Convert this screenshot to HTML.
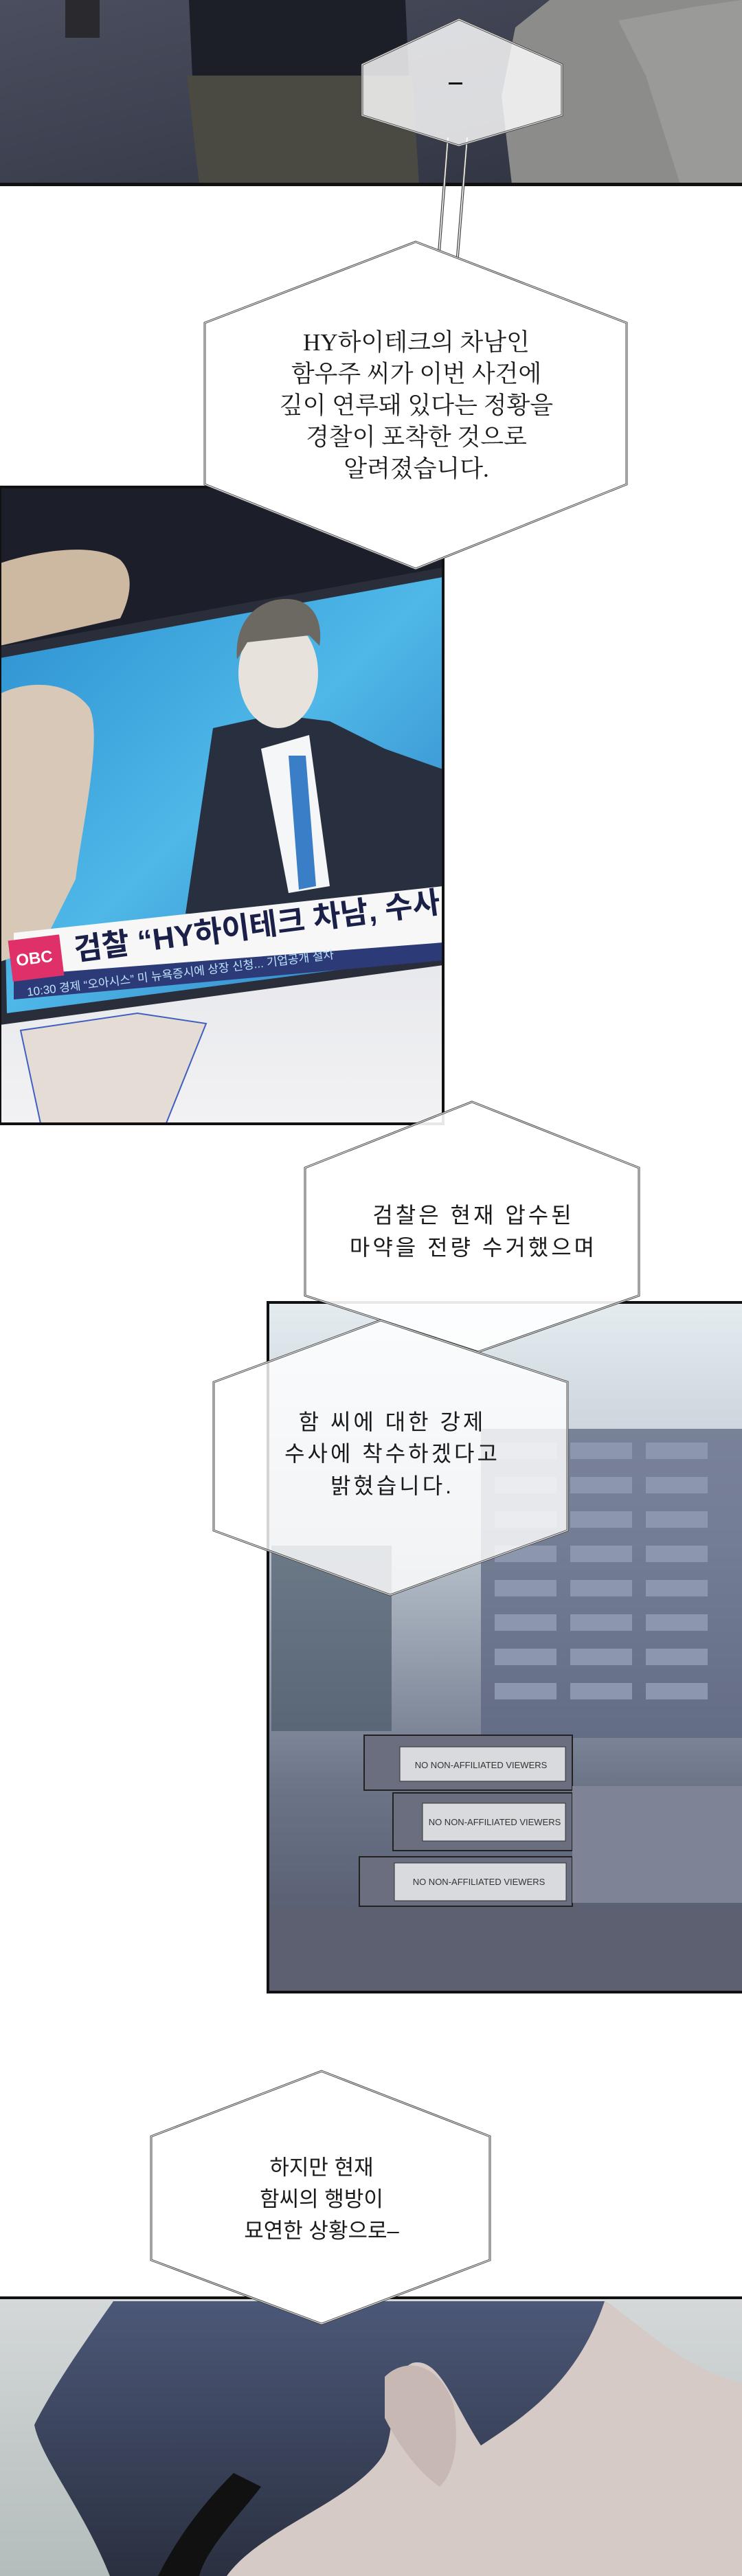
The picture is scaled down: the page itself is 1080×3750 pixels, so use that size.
<!DOCTYPE html>
<html><head><meta charset="utf-8"><style>
html,body{margin:0;padding:0;background:#fff;}
svg{display:block;}
.t{font-family:"Liberation Serif","Noto Serif CJK SC",serif;fill:#1a1a1a;text-anchor:middle;}
.s{font-family:"Liberation Sans","Noto Sans CJK KR",sans-serif;fill:#1a1a1a;text-anchor:middle;}
</style></head><body>
<svg width="1080" height="3750" viewBox="0 0 1080 3750" xmlns="http://www.w3.org/2000/svg">
<defs>
<linearGradient id="bgTop" x1="0" y1="0" x2="1" y2="1"><stop offset="0" stop-color="#4a4e5e"/><stop offset="1" stop-color="#2e3240"/></linearGradient>
<linearGradient id="screen" x1="0" y1="0" x2="1" y2="1"><stop offset="0" stop-color="#2b8fd0"/><stop offset="0.5" stop-color="#4fb8e8"/><stop offset="1" stop-color="#2a78c0"/></linearGradient>
<linearGradient id="under" x1="0" y1="0" x2="0" y2="1"><stop offset="0" stop-color="#c8ccd4"/><stop offset="1" stop-color="#f2f2f4"/></linearGradient>
<linearGradient id="srv" x1="0" y1="0" x2="0" y2="1"><stop offset="0" stop-color="#e4ecf0"/><stop offset="0.35" stop-color="#b8c2cc"/><stop offset="0.7" stop-color="#6c7488"/><stop offset="1" stop-color="#4e5466"/></linearGradient>
<linearGradient id="bot" x1="0" y1="0" x2="0" y2="1"><stop offset="0" stop-color="#d4d8d8"/><stop offset="1" stop-color="#b4bcbc"/></linearGradient>
<linearGradient id="hair" x1="0" y1="0" x2="0" y2="1"><stop offset="0" stop-color="#4c5878"/><stop offset="1" stop-color="#2a3040"/></linearGradient>
<clipPath id="phoneClip"><rect x="0" y="709" width="645" height="927"/></clipPath>
</defs>

<!-- TOP PANEL -->
<rect x="0" y="0" width="1080" height="268" fill="url(#bgTop)"/>
<rect x="95" y="0" width="50" height="55" fill="#2a2a2e"/>
<path d="M275 0 L590 0 L595 110 L520 118 L280 112 Z" fill="#1c1e28"/>
<path d="M272 110 L600 110 L610 268 L290 268 Z" fill="#4a4a42"/>
<path d="M750 40 L800 0 L1080 0 L1080 268 L745 268 L730 140 Z" fill="#8c8c8a"/>
<path d="M900 30 L1010 10 L1080 0 L1080 268 L990 268 L940 110 Z" fill="#9a9a98"/>
<rect x="0" y="266" width="1080" height="5" fill="#111"/>

<!-- PHONE PANEL -->
<g clip-path="url(#phoneClip)">
<rect x="0" y="709" width="645" height="927" fill="url(#under)"/>
<path d="M0 709 L645 709 L645 830 L0 942 Z" fill="#1c1e2a"/>
<path d="M0 820 C60 800 140 790 175 815 C200 840 185 880 175 900 L0 940 Z" fill="#cdb8a2"/>
<path d="M0 942 L645 826 L645 1405 L0 1492 Z" fill="#2a2e3a"/>
<path d="M0 958 L645 840 L645 1392 L10 1475 Z" fill="url(#screen)"/>
<path d="M270 1330 L310 1060 L400 1040 L480 1050 L560 1090 L645 1120 L645 1330 Z" fill="#283040"/>
<path d="M380 1090 L450 1070 L480 1290 L420 1300 Z" fill="#f4f6f8"/>
<path d="M420 1100 L445 1100 L460 1290 L435 1295 Z" fill="#3a7ec8"/>
<ellipse cx="405" cy="980" rx="58" ry="80" fill="#e8e2dc"/>
<path d="M345 960 C340 900 380 870 420 872 C460 874 470 910 465 940 L450 925 L360 935 Z" fill="#6c6862"/>
<path d="M0 1010 C40 990 100 990 130 1030 C150 1070 120 1200 110 1280 L60 1380 L0 1400 Z" fill="#d8c8b8"/>
<path d="M30 1500 L60 1640 L240 1640 L300 1490 L200 1475 Z" fill="#e6dcd6" stroke="#4060c0" stroke-width="2"/>
<path d="M20 1358 L645 1290 L645 1378 L20 1430 Z" fill="#f7f7f7"/>
<path d="M20 1420 L645 1372 L645 1398 L20 1455 Z" fill="#2c3a78"/>
<rect x="15" y="1365" width="75" height="60" fill="#e0306a" transform="rotate(-7 50 1395)"/>
<text x="50" y="1403" font-family="Liberation Sans,sans-serif" font-weight="bold" font-size="24" fill="#fff" text-anchor="middle" transform="rotate(-7 50 1395)">OBC</text>
<text x="110" y="1398" font-family="Liberation Sans,'Noto Sans CJK KR',sans-serif" font-weight="bold" font-size="44" fill="#1a2048" transform="rotate(-7.5 110 1398)">검찰 “HY하이테크 차남, 수사 다</text>
<text x="40" y="1450" font-family="Liberation Sans,'Noto Sans CJK KR',sans-serif" font-size="17" fill="#bfe4ff" transform="rotate(-7 40 1450)">10:30  경제 “오아시스” 미 뉴욕증시에 상장 신청... 기업공개 절차</text>
</g>
<rect x="0" y="709" width="645" height="927" fill="none" stroke="#111" stroke-width="4"/>

<!-- SERVER PANEL -->
<rect x="390" y="1896" width="690" height="1004" fill="url(#srv)"/>
<rect x="700" y="2080" width="380" height="450" fill="#5c6680" opacity="0.75"/>
<g fill="#8c96ac">
<rect x="720" y="2100" width="90" height="24"/><rect x="830" y="2100" width="90" height="24"/><rect x="940" y="2100" width="90" height="24"/>
<rect x="720" y="2150" width="90" height="24"/><rect x="830" y="2150" width="90" height="24"/><rect x="940" y="2150" width="90" height="24"/>
<rect x="720" y="2200" width="90" height="24"/><rect x="830" y="2200" width="90" height="24"/><rect x="940" y="2200" width="90" height="24"/>
<rect x="720" y="2250" width="90" height="24"/><rect x="830" y="2250" width="90" height="24"/><rect x="940" y="2250" width="90" height="24"/>
<rect x="720" y="2300" width="90" height="24"/><rect x="830" y="2300" width="90" height="24"/><rect x="940" y="2300" width="90" height="24"/>
<rect x="720" y="2350" width="90" height="24"/><rect x="830" y="2350" width="90" height="24"/><rect x="940" y="2350" width="90" height="24"/>
<rect x="720" y="2400" width="90" height="24"/><rect x="830" y="2400" width="90" height="24"/><rect x="940" y="2400" width="90" height="24"/>
<rect x="720" y="2450" width="90" height="24"/><rect x="830" y="2450" width="90" height="24"/><rect x="940" y="2450" width="90" height="24"/>
</g>
<rect x="395" y="2250" width="175" height="270" fill="#4c5a6a" opacity="0.7"/>
<rect x="530" y="2526" width="303" height="80" fill="#6a6e7e" stroke="#222" stroke-width="2"/>
<rect x="582" y="2543" width="241" height="50" fill="#d8dade" stroke="#333"/>
<text x="700" y="2574" font-family="Liberation Sans,sans-serif" font-size="13" fill="#333" text-anchor="middle">NO NON-AFFILIATED VIEWERS</text>
<rect x="572" y="2610" width="261" height="84" fill="#6a6e7e" stroke="#222" stroke-width="2"/>
<rect x="615" y="2625" width="208" height="55" fill="#d8dade" stroke="#333"/>
<text x="720" y="2657" font-family="Liberation Sans,sans-serif" font-size="13" fill="#333" text-anchor="middle">NO NON-AFFILIATED VIEWERS</text>
<rect x="523" y="2703" width="310" height="72" fill="#6a6e7e" stroke="#222" stroke-width="2"/>
<rect x="574" y="2712" width="250" height="55" fill="#d8dade" stroke="#333"/>
<text x="697" y="2744" font-family="Liberation Sans,sans-serif" font-size="13" fill="#333" text-anchor="middle">NO NON-AFFILIATED VIEWERS</text>
<rect x="833" y="2600" width="247" height="170" fill="#7e8496"/>
<rect x="390" y="2778" width="690" height="122" fill="#5c6070"/>
<rect x="390" y="1896" width="692" height="1004" fill="none" stroke="#111" stroke-width="4"/>

<!-- BOTTOM PANEL -->
<rect x="0" y="3345" width="1080" height="405" fill="url(#bot)"/>
<path d="M165 3350 L880 3350 C930 3380 960 3430 1000 3460 L1080 3470 L1080 3750 L160 3750 C120 3650 60 3580 50 3530 C80 3470 130 3400 165 3350 Z" fill="url(#hair)"/>
<path d="M880 3350 C930 3380 980 3440 1080 3470 L1080 3750 L330 3750 C380 3680 520 3640 560 3570 C580 3520 560 3460 600 3440 C640 3430 660 3500 700 3560 C760 3520 840 3470 880 3350 Z" fill="#d6cac6"/>
<path d="M560 3460 C590 3430 640 3440 660 3500 C670 3560 660 3600 640 3620 C610 3600 580 3560 560 3520 Z" fill="#c8b8b4"/>
<path d="M230 3750 C260 3690 300 3640 340 3600 L380 3620 C350 3660 300 3710 290 3750 Z" fill="#111"/>
<rect x="0" y="3343" width="1080" height="4" fill="#111"/>

<!-- BUBBLE 1 -->
<g>
<path d="M652 200 L638 380 M680 200 L665 385" stroke="#444" stroke-width="4"/>
<path d="M652 200 L638 380 M680 200 L665 385" stroke="#fff" stroke-width="1.5"/>
<polygon points="668,28 818,94 818,168 668,212 527,168 527,94" fill="#fff" fill-opacity="0.82" stroke="#444" stroke-width="3"/>
<polygon points="668,28 818,94 818,168 668,212 527,168 527,94" fill="none" stroke="#fff" stroke-width="1"/>
<rect x="653" y="120" width="20" height="3" fill="#111"/>
</g>

<!-- BUBBLE 2 -->
<polygon points="605,352 912,470 912,705 605,828 298,705 298,470" fill="#fff" stroke="#444" stroke-width="3"/>
<polygon points="605,352 912,470 912,705 605,828 298,705 298,470" fill="none" stroke="#fff" stroke-width="1"/>
<g class="t" font-size="35">
<text x="606" y="510">HY하이테크의 차남인</text>
<text x="606" y="556">함우주 씨가 이번 사건에</text>
<text x="606" y="602">깊이 연루돼 있다는 정황을</text>
<text x="606" y="648">경찰이 포착한 것으로</text>
<text x="606" y="694">알려졌습니다.</text>
</g>

<!-- BUBBLE 3 -->
<polygon points="687,1604 930,1700 930,1886 696,1968 444,1886 444,1700" fill="#fff" fill-opacity="0.9" stroke="#444" stroke-width="3"/>
<polygon points="687,1604 930,1700 930,1886 696,1968 444,1886 444,1700" fill="none" stroke="#fff" stroke-width="1"/>
<g class="s" font-size="32" letter-spacing="4">
<text x="689" y="1780">검찰은 현재 압수된</text>
<text x="689" y="1827">마약을 전량 수거했으며</text>
</g>

<!-- BUBBLE 4 -->
<polygon points="554,1922 826,2012 826,2228 568,2322 311,2228 311,2012" fill="#fff" fill-opacity="0.82" stroke="#444" stroke-width="3"/>
<polygon points="554,1922 826,2012 826,2228 568,2322 311,2228 311,2012" fill="none" stroke="#fff" stroke-width="1"/>
<g class="s" font-size="32" letter-spacing="4">
<text x="571" y="2081">함 씨에 대한 강제</text>
<text x="571" y="2127">수사에 착수하겠다고</text>
<text x="571" y="2174">밝혔습니다.</text>
</g>

<!-- BUBBLE 5 -->
<polygon points="468,3015 713,3110 713,3290 468,3383 220,3290 220,3110" fill="#fff" stroke="#444" stroke-width="3"/>
<polygon points="468,3015 713,3110 713,3290 468,3383 220,3290 220,3110" fill="none" stroke="#fff" stroke-width="1"/>
<g class="s" font-size="31">
<text x="468" y="3166">하지만 현재</text>
<text x="468" y="3212">함씨의 행방이</text>
<text x="468" y="3258">묘연한 상황으로–</text>
</g>
</svg>
</body></html>
